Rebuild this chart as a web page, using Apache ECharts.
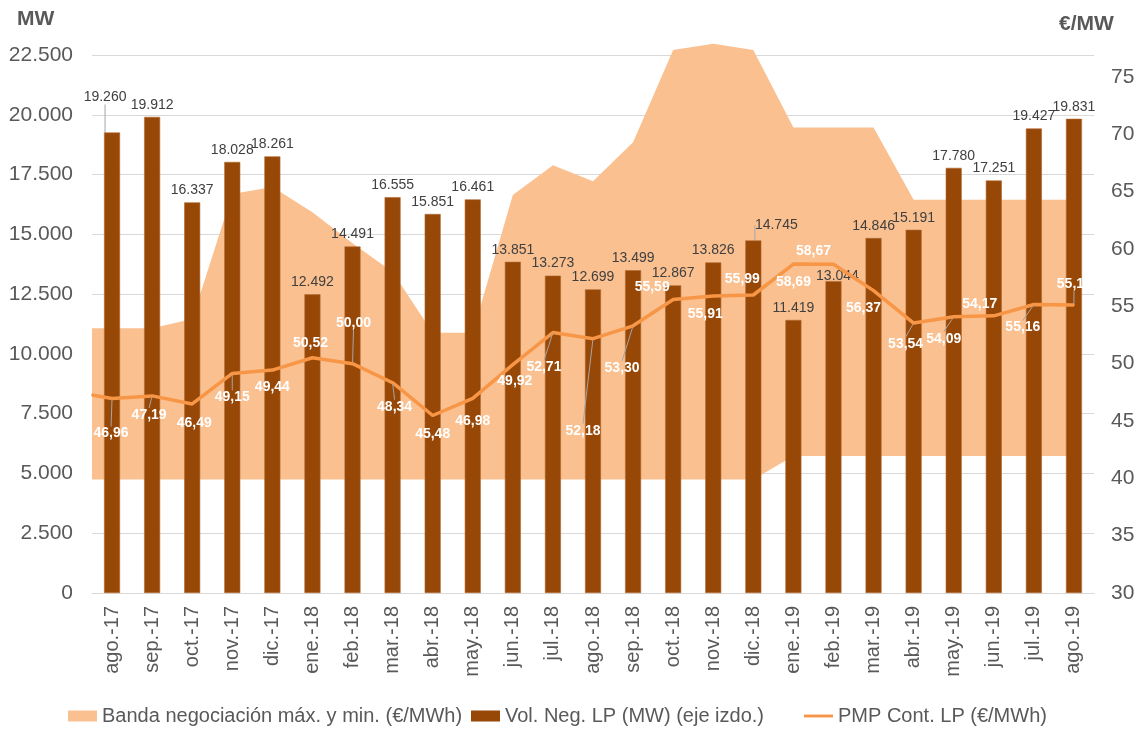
<!DOCTYPE html>
<html lang="es">
<head>
<meta charset="UTF-8">
<title>Vol. Neg. LP</title>
<script src="https://cdn.jsdelivr.net/npm/echarts@6.0.0/dist/echarts.min.js"></script>
<style>
    html, body { margin: 0; padding: 0; background: #fff; }
    #chart { width: 1146px; height: 731px; }
</style>
</head>
<body>
<div id="chart"></div>
<script>
    // datos
    var meses = ['ago.-17', 'sep.-17', 'oct.-17', 'nov.-17', 'dic.-17', 'ene.-18', 'feb.-18', 'mar.-18',
        'abr.-18', 'may.-18', 'jun.-18', 'jul.-18', 'ago.-18', 'sep.-18', 'oct.-18', 'nov.-18', 'dic.-18',
        'ene.-19', 'feb.-19', 'mar.-19', 'abr.-19', 'may.-19', 'jun.-19', 'jul.-19', 'ago.-19'];
    var volNeg = [19260, 19912, 16337, 18028, 18261, 12492, 14491, 16555, 15851, 16461, 13851, 13273, 12699,
        13499, 12867, 13826, 14745, 11419, 13044, 14846, 15191, 17780, 17251, 19427, 19831];
    var pmp = [46.96, 47.19, 46.49, 49.15, 49.44, 50.52, 50.00, 48.34, 45.48, 46.98, 49.92, 52.71, 52.18,
        53.30, 55.59, 55.91, 55.99, 58.69, 58.67, 56.37, 53.54, 54.09, 54.17, 55.16, 55.11];
    var pmpInicio = 47.27; // valor en el borde izquierdo del grafico
    var bandaMax = [53.1, 53.1, 53.9, 64.8, 65.4, 63.2, 60.5, 58.0, 52.7, 52.7, 64.7, 67.3, 65.9,
        69.3, 77.35, 77.9, 77.35, 70.6, 70.6, 70.6, 64.3, 64.3, 64.3, 64.3, 64.3];
    var bandaMin = [39.9, 39.9, 39.9, 39.9, 39.9, 39.9, 39.9, 39.9, 39.9, 39.9, 39.9, 39.9, 39.9,
        39.9, 39.9, 39.9, 39.9, 41.95, 41.95, 41.95, 41.95, 41.95, 41.95, 41.95, 41.95];

    // desplazamiento de etiquetas (px) y guias
    var pmpLabelOffset = [[-1, 35], [-3, 19], [2, 19], [0, 24], [0, 17], [-2, -15], [1, -41], [2, 24],
        [0, 19], [0, 23], [2, 17], [-9, 35], [-10, 92], [-11, 42], [-21, -12], [-8, 18], [-11, -16],
        [0, 18], [-20, -13], [-10, 18], [-8, 21], [-10, 22], [-14, -12], [-11, 23], [0, -21]];
    var pmpGuia = [0, 1, 3, 6, 7, 11, 12, 13, 20, 21, 23, 24];
    var volLabelOffset = {0: [-7, -23], 16: [23, -3], 18: [4, 7]};
    var volGuia = [0, 16];

    var nombreBanda = 'Banda negociación máx. y min. (€/MWh)';
    var nombreVol = 'Vol. Neg. LP (MW) (eje izdo.)';
    var nombrePmp = 'PMP Cont. LP (€/MWh)';
    var fuente = '"Liberation Sans", Arial, sans-serif';
    var gris = '#595959';

    function miles(v) {
        return String(v).replace(/\B(?=(\d{3})+(?!\d))/g, '.');
    }

    // la banda y la linea empiezan en el borde izquierdo (x = -0.5)
    var bandaData = [[-0.5, bandaMax[0], bandaMin[0]]].concat(bandaMax.map(function (v, i) {
        return [i, v, bandaMin[i]];
    }));

    var pmpData = [{value: [-0.5, pmpInicio], label: {show: false}}].concat(pmp.map(function (v, i) {
        return {value: [i, v], labelLine: {show: pmpGuia.indexOf(i) >= 0}};
    }));
    var volData = volNeg.map(function (v, i) {
        return {value: v, labelLine: {show: volGuia.indexOf(i) >= 0}};
    });

    function leyenda(left, nombre, icono) {
        return {
            left: left, top: 706, padding: 0,
            itemWidth: 29, itemHeight: 11,
            itemStyle: {borderWidth: 0},
            textStyle: {fontSize: 20, color: gris, fontFamily: fuente},
            data: [{name: nombre, icon: icono}]
        };
    }

    var chart = echarts.init(document.getElementById('chart'));
    chart.setOption({
        animation: false,
        textStyle: {fontFamily: fuente},
        grid: {left: 92, right: 52, top: 55, bottom: 138, containLabel: false, outerBoundsMode: 'none'},
        graphic: [
            {type: 'text', left: 17, top: 9, style: {text: 'MW', font: 'bold 21px ' + fuente, fill: gris}},
            {type: 'text', left: 1059, top: 14, style: {text: '€/MW', font: 'bold 21px ' + fuente, fill: gris}}
        ],
        legend: [
            leyenda(68, nombreBanda, 'rect'),
            leyenda(471, nombreVol, 'rect'),
            leyenda(804, nombrePmp, 'path://M0,0H30V3H0Z')
        ],
        xAxis: [
            {
                type: 'category',
                data: meses,
                boundaryGap: true,
                axisTick: {show: false},
                axisLine: {lineStyle: {color: '#d9d9d9', width: 1}},
                axisLabel: {rotate: 90, fontSize: 20, color: gris, margin: 13, interval: 0}
            },
            {
                type: 'value', min: -0.5, max: 24.5, show: false
            }
        ],
        yAxis: [
            {
                type: 'value', min: 0, max: 22500, interval: 2500,
                axisLabel: {fontSize: 21, color: gris, margin: 19, formatter: miles},
                axisLine: {show: false}, axisTick: {show: false},
                splitLine: {lineStyle: {color: '#d9d9d9', width: 1}}
            },
            {
                type: 'value', min: 30, max: 76.92, interval: 5, position: 'right',
                axisLabel: {fontSize: 21, color: gris, margin: 17, showMaxLabel: false},
                axisLine: {show: false}, axisTick: {show: false},
                splitLine: {show: false}
            }
        ],
        series: [
            {
                name: nombreBanda,
                type: 'custom',
                xAxisIndex: 1,
                yAxisIndex: 1,
                data: bandaData,
                encode: {x: 0, y: [1, 2]},
                itemStyle: {color: '#FAC090'},
                silent: true,
                z: 1,
                renderItem: function (params, api) {
                    if (params.dataIndex !== 0) return null;
                    var pts = [];
                    var i;
                    for (i = 0; i < bandaData.length; i++) {
                        pts.push(api.coord([bandaData[i][0], bandaData[i][1]]));
                    }
                    for (i = bandaData.length - 1; i >= 0; i--) {
                        pts.push(api.coord([bandaData[i][0], bandaData[i][2]]));
                    }
                    return {type: 'polygon', shape: {points: pts}, style: {fill: '#FAC090'}};
                }
            },
            {
                name: nombreVol,
                type: 'bar',
                xAxisIndex: 0,
                yAxisIndex: 0,
                data: volData,
                barWidth: 16,
                itemStyle: {color: '#974706', borderColor: '#B06A33', borderWidth: 0.6},
                label: {
                    show: true, position: 'top', distance: 5,
                    fontSize: 14, color: '#404040',
                    formatter: function (p) { return miles(p.value); }
                },
                labelLine: {lineStyle: {color: '#a6a6a6', width: 1}},
                labelLayout: function (p) {
                    var o = volLabelOffset[p.dataIndex];
                    return o ? {dx: o[0], dy: o[1]} : {};
                },
                z: 2
            },
            {
                name: nombrePmp,
                type: 'line',
                xAxisIndex: 1,
                yAxisIndex: 1,
                data: pmpData,
                symbol: 'circle',
                symbolSize: 2,
                showSymbol: true,
                itemStyle: {color: '#F79646'},
                lineStyle: {color: '#F79646', width: 3.5},
                label: {
                    show: true, position: 'inside',
                    fontSize: 14, fontWeight: 'bold', color: '#ffffff',
                    formatter: function (p) { return p.value[1].toFixed(2).replace('.', ','); }
                },
                labelLine: {lineStyle: {color: '#a6a6a6', width: 1}},
                labelLayout: function (p) {
                    var o = pmpLabelOffset[p.dataIndex - 1];
                    return o ? {dx: o[0], dy: o[1]} : {};
                },
                z: 5
            }
        ]
    });
</script>
</body>
</html>
